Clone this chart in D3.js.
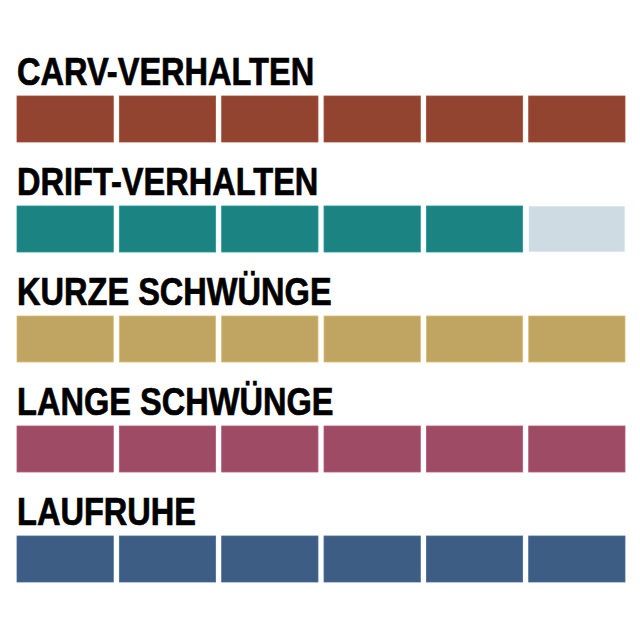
<!DOCTYPE html>
<html>
<head>
<meta charset="utf-8">
<script src="https://cdn.jsdelivr.net/npm/d3@7"></script>
<style>
  body { margin: 0; background: #fff; }
  .title { font-family: "Liberation Sans", Arial, sans-serif; font-weight: bold; font-size: 39px; fill: #000; stroke: #000; stroke-width: 0.7px; }
</style>
</head>
<body>
<script>
// ratings out of 6
var categories = ["CARV-VERHALTEN", "DRIFT-VERHALTEN", "KURZE SCHWÜNGE", "LANGE SCHWÜNGE", "LAUFRUHE"];
var scores = [6, 5, 6, 6, 6];
var maxScore = 6;
var colors = ["#924430", "#1b8482", "#bfa462", "#9e4b66", "#3d5d84"];
var emptyColor = "#cfdbe2";

var width = 640, height = 640;

var svg = d3.select("body").append("svg")
  .attr("width", width)
  .attr("height", height);

var x = d3.scaleBand()
  .domain(d3.range(1, maxScore + 1))
  .range([17, 625])
  .paddingInner(0.059);

var y = d3.scaleBand()
  .domain(categories)
  .range([96, 646]);

var barH = 46;

var row = svg.selectAll("g.row")
  .data(categories)
  .enter().append("g")
  .attr("class", "row")
  .attr("transform", function (d) { return "translate(0," + y(d) + ")"; });

// narrow look: squeeze the bold sans horizontally
row.append("text")
  .attr("class", "title")
  .attr("transform", "translate(17,-11) scale(0.835,1)")
  .text(function (d) { return d; });

row.selectAll("rect")
  .data(function (d, i) {
    return d3.range(1, maxScore + 1).map(function (k) {
      return {k: k, on: k <= scores[i], c: colors[i]};
    });
  })
  .enter().append("rect")
  .attr("x", function (d) { return x(d.k); })
  .attr("y", 0)
  .attr("width", x.bandwidth())
  .attr("height", barH)
  .attr("fill", function (d) { return d.on ? d.c : emptyColor; })
  .attr("stroke", function (d) { return d3.color(d.on ? d.c : emptyColor).brighter(0.4); })
  .attr("stroke-width", 0.8);
</script>
</body>
</html>
